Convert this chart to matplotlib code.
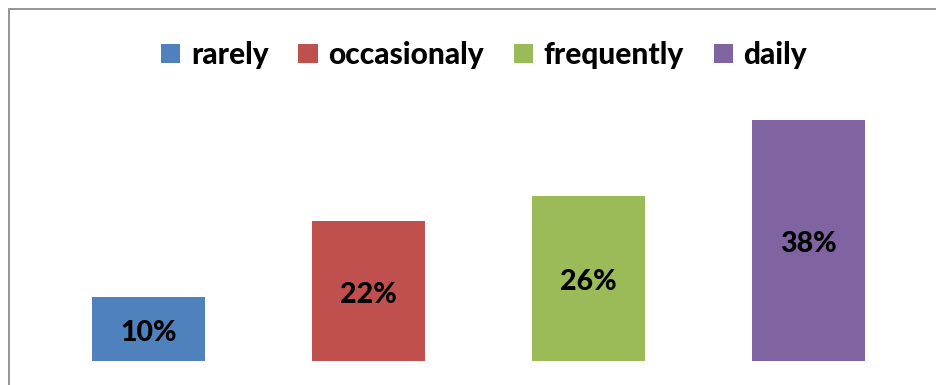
import matplotlib.pyplot as plt
from matplotlib.patches import Patch, Rectangle

# survey answers: how often
categories = ['rarely', 'occasionaly', 'frequently', 'daily']
shares = [10, 22, 26, 38]
colors = ['#4F81BD', '#C0504D', '#9BBB59', '#8064A2']

plt.rcParams['font.family'] = ['Lato', 'DejaVu Sans']

W, H = 936, 385
fig = plt.figure(figsize=(W / 100, H / 100), dpi=100)

# chart frame, cut off on the right and bottom
fig.patches.append(Rectangle((8.5 / W, -0.1), 1.2, 1 - 8.5 / H + 0.1,
                             transform=fig.transFigure, fill=False,
                             edgecolor='#8C8C8C', linewidth=1.3))

ax = fig.add_axes([38.5 / W, 24.5 / H, 880 / W, 253.6 / H])
x = range(len(categories))
bars = ax.bar(x, shares, width=0.515, color=colors)
for b, v in zip(bars, shares):
    ax.annotate(f'{v}%', (b.get_x() + b.get_width() / 2, v / 2),
                xytext=(0, -3), textcoords='offset points',
                ha='center', va='center', fontsize=20.5, fontweight='black',
                color='black')

ax.set_xlim(-0.5, 3.5)
ax.set_ylim(0, 40)
ax.axis('off')

handles = [Patch(facecolor=c) for c in colors]
fig.legend(handles, categories, loc='center', ncol=4,
           bbox_to_anchor=(484 / W, 1 - 55 / H), frameon=False,
           prop={'size': 21.5, 'weight': 'black'},
           handlelength=0.65, handleheight=0.65, handletextpad=0.35,
           columnspacing=1.0)

fig.savefig('out.png', dpi=100)
